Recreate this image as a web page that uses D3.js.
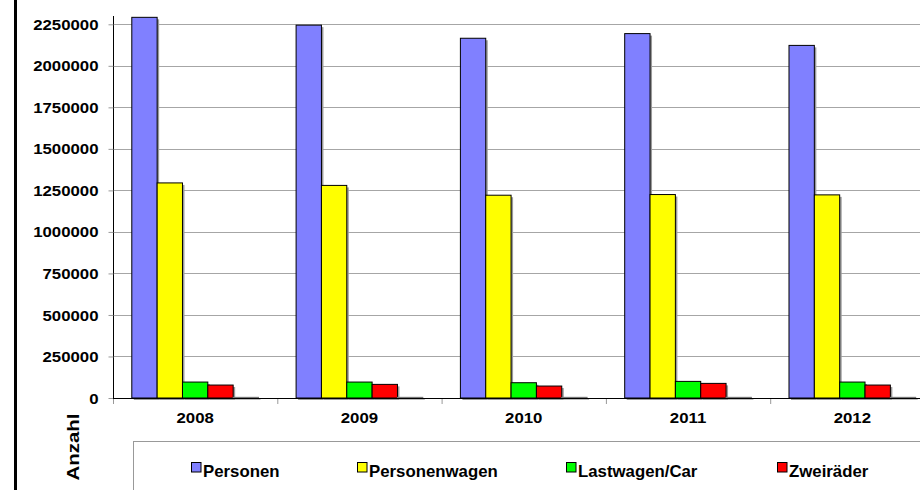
<!DOCTYPE html>
<html>
<head>
<meta charset="utf-8">
<script src="https://cdn.jsdelivr.net/npm/d3@7/dist/d3.min.js"></script>
<style>
  html, body { margin: 0; padding: 0; background: #fff; }
  svg { display: block; font-family: Arial, "Liberation Sans", sans-serif; }
</style>
</head>
<body>
<svg id="chart" width="920" height="490"></svg>
<script>
// Jahre und Werte je Verkehrsart
const years = ["2008", "2009", "2010", "2011", "2012"];
const personen = [2292000, 2245000, 2166000, 2194000, 2123000];
const personenwagen = [1295000, 1280000, 1221000, 1225000, 1223000];
const lastwagen = [96000, 96000, 92000, 100000, 96000];
const zweiraeder = [78000, 82000, 72000, 88000, 78000];
const weitere = [4000, 4000, 4000, 4000, 4000];

const seriesNames = ["Personen", "Personenwagen", "Lastwagen/Car", "Zweiräder", "Weitere"];
const seriesValues = [personen, personenwagen, lastwagen, zweiraeder, weitere];
const seriesColors = ["#8080FF", "#FFFF00", "#00FF00", "#FF0000", "#FFFFFF"];
const legendNames = ["Personen", "Personenwagen", "Lastwagen/Car", "Zweiräder"];
const yTicks = [0, 250000, 500000, 750000, 1000000, 1250000, 1500000, 1750000, 2000000, 2250000];

const svg = d3.select("#chart");
const stretch = 1.2; // horizontal text stretch

const plot = { left: 113, right: 934.5, top: 16, bottom: 398 };

const x = d3.scaleBand().domain(years).range([plot.left, plot.right]).paddingInner(0).paddingOuter(0);
const xInner = d3.scaleBand().domain(seriesNames)
  .range([x.bandwidth() * 0.1144, x.bandwidth() * (1 - 0.1144)]).padding(0);
const y = d3.scaleLinear().domain([0, 2300000]).range([plot.bottom, plot.top]);

// thick rule at the left edge
svg.append("rect").attr("x", 14).attr("y", 0).attr("width", 3).attr("height", 490).attr("fill", "#000");

// gridlines
svg.append("g").selectAll("line").data(yTicks.filter(d => d > 0)).join("line")
  .attr("x1", plot.left).attr("x2", 920)
  .attr("y1", d => Math.round(y(d)) + 0.5).attr("y2", d => Math.round(y(d)) + 0.5)
  .attr("stroke", "#a6a6a6").attr("stroke-width", 1);

// y axis
const yAxis = d3.axisLeft(y).tickValues(yTicks).tickSize(5).tickFormat("");
const gy = svg.append("g").attr("transform", `translate(${plot.left + 0.5},0)`).call(yAxis);
gy.select(".domain").attr("stroke", "#000").attr("d", `M0,${plot.top}V${plot.bottom}`);
gy.selectAll(".tick line").attr("stroke", "#999");
gy.selectAll(".tick").each(function(d) {
  d3.select(this).append("text")
    .attr("transform", `translate(-15,0) scale(${stretch},1)`)
    .attr("dy", "0.36em")
    .attr("text-anchor", "end")
    .attr("fill", "#000")
    .style("font-size", "14px").style("font-weight", "bold")
    .text(d);
});

// bars
const groups = svg.append("g").selectAll("g").data(years).join("g")
  .attr("transform", d => `translate(${x(d)},0)`);

groups.each(function(yr, i) {
  const g = d3.select(this);
  const rows = seriesNames.map((s, k) => ({ s, v: seriesValues[k][i], c: seriesColors[k] }));
  // shadows
  g.selectAll("rect.shadow").data(rows).join("rect").attr("class", "shadow")
    .attr("x", d => xInner(d.s) + 2)
    .attr("y", d => y(d.v) + 2)
    .attr("width", xInner.bandwidth())
    .attr("height", d => y(0) - y(d.v))
    .attr("fill", "#9a9a9a");
  g.selectAll("rect.bar").data(rows).join("rect").attr("class", "bar")
    .attr("x", d => xInner(d.s))
    .attr("y", d => y(d.v))
    .attr("width", xInner.bandwidth())
    .attr("height", d => y(0) - y(d.v))
    .attr("fill", d => d.c)
    .attr("stroke", d => d.s === "Weitere" ? "#777" : "#000")
    .attr("stroke-width", 1);
});

// x axis
const xAxis = d3.axisBottom(x).tickSize(0).tickFormat("");
const gx = svg.append("g").attr("transform", `translate(0,${plot.bottom + 0.5})`).call(xAxis);
gx.select(".domain").attr("stroke", "#000").attr("d", `M${plot.left},0H920`);
gx.selectAll(".tick line").remove();
// category boundary ticks
svg.append("g").selectAll("line").data(years.concat(["end"])).join("line")
  .attr("x1", (d, i) => plot.left + i * x.bandwidth() + 0.5)
  .attr("x2", (d, i) => plot.left + i * x.bandwidth() + 0.5)
  .attr("y1", plot.bottom + 1).attr("y2", plot.bottom + 6)
  .attr("stroke", "#999");
svg.append("g").selectAll("text").data(years).join("text")
  .attr("transform", d => `translate(${x(d) + x.bandwidth() / 2},${plot.bottom + 25}) scale(${stretch},1)`)
  .attr("text-anchor", "middle")
  .style("font-size", "14px").style("font-weight", "bold")
  .text(d => d);

// axis title
svg.append("text")
  .attr("transform", `translate(79,447) rotate(-90) scale(1.2,1)`)
  .attr("text-anchor", "middle")
  .style("font-size", "17px").style("font-weight", "bold")
  .text("Anzahl");

// legend
svg.append("rect").attr("x", 133.5).attr("y", 441.5).attr("width", 820).attr("height", 80)
  .attr("fill", "#fff").attr("stroke", "#999");
const legendX = [191, 357, 566, 777];
const lg = svg.append("g").selectAll("g").data(legendNames).join("g")
  .attr("transform", (d, i) => `translate(${legendX[i]},0)`);
lg.append("rect").attr("x", 0.5).attr("y", 462.5).attr("width", 9.5).attr("height", 9.5)
  .attr("fill", (d, i) => seriesColors[i]).attr("stroke", "#000");
lg.append("text")
  .attr("transform", `translate(12,477) scale(1.05,1)`)
  .style("font-size", "16px").style("font-weight", "bold")
  .text(d => d);
</script>
</body>
</html>
